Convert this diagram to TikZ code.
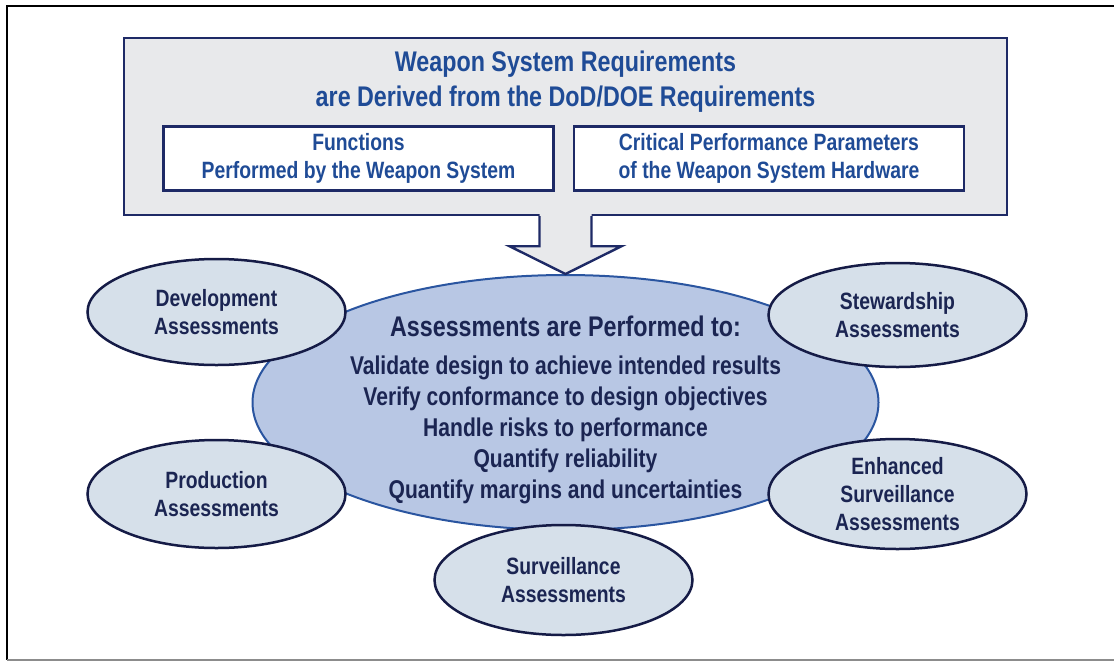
\documentclass[tikz,border=0pt]{standalone}
\usepackage{fontspec}
\setmainfont{Liberation Sans}[FakeStretch=0.82]
\usetikzlibrary{shapes.geometric,positioning}
\definecolor{reqgray}{HTML}{E8E9EB}
\definecolor{navyline}{HTML}{1E2A66}
\definecolor{titleblue}{HTML}{1F4B96}
\definecolor{ellblue}{HTML}{B8C7E4}
\definecolor{ellline}{HTML}{2A55A0}
\definecolor{satfill}{HTML}{D6E0EA}
\definecolor{satline}{HTML}{151B46}
\definecolor{darktext}{HTML}{1B2552}
\definecolor{framegray}{HTML}{8C8C8C}
\newcommand{\titlefont}{\fontsize{28.4}{35}\selectfont\bfseries}
\newcommand{\boxfont}{\fontsize{23.6}{28}\selectfont\bfseries}
\newcommand{\itemfont}{\fontsize{25.7}{31}\selectfont\bfseries}

\begin{document}
\begin{tikzpicture}[x=1pt,y=-1pt,
    reqbox/.style={draw=navyline,line width=2.4pt,fill=white,minimum width=390pt,
      minimum height=64pt,inner sep=0pt,align=center,text=titleblue,font=\boxfont},
    assess/.style={ellipse,draw=satline,line width=2.5pt,fill=satfill,minimum width=258pt,
      inner sep=0pt,align=center,text=darktext,font=\boxfont}]
    \useasboundingbox (0,0) rectangle (1114,662);
    % frame
    \draw[black,line width=2.4pt] (1114,6) -- (7,6) -- (7,660);
    \draw[framegray,line width=2pt] (7,660) -- (1114,660);
    % requirements
    \node[draw=navyline,line width=2.4pt,fill=reqgray,minimum width=883pt,minimum height=177pt,
      inner sep=0pt] (req) at (565.5,126.5) {};
    \node[align=center,text=titleblue,font=\titlefont] (reqtitle) at (565.5,82)
      {Weapon System Requirements\\are Derived from the DoD/DOE Requirements};
    \node[reqbox] (functions) at (358.5,158.5) {Functions\\Performed by the Weapon System};
    \node[reqbox] (params) at (769,158.5) {Critical Performance Parameters\\of the Weapon System Hardware};
    % assessments
    \node[ellipse,draw=ellline,line width=2pt,fill=ellblue,minimum width=626pt,
      minimum height=255pt,inner sep=0pt] (centre) at (565.5,402.5) {};
    \node[text=darktext,font=\titlefont] (centrehead) at (565.5,326) {Assessments are Performed to:};
    \node[align=center,text=darktext,font=\itemfont] (centreitems) at (565.5,430)
      {Validate design to achieve intended results\\Verify conformance to design objectives\\
       Handle risks to performance\\Quantify reliability\\Quantify margins and uncertainties};
    % block arrow
    \path (req.south) ++(0,30) coordinate (headbase);
    \fill[reqgray] ([xshift=-26pt,yshift=2pt]req.south) -- ([xshift=-26pt]headbase)
      -- ([xshift=-56pt]headbase) -- (centre.north) -- ([xshift=56pt]headbase)
      -- ([xshift=26pt]headbase) -- ([xshift=26pt,yshift=2pt]req.south) -- cycle;
    \draw[navyline,line width=2.4pt] ([xshift=-26pt]req.south) -- ([xshift=-26pt]headbase)
      -- ([xshift=-56pt]headbase) -- (centre.north) -- ([xshift=56pt]headbase)
      -- ([xshift=26pt]headbase) -- ([xshift=26pt]req.south);
    % satellites
    \node[assess,minimum height=106pt] (development) at (216.5,312) {Development\\Assessments};
    \node[assess,minimum height=104pt] (stewardship) at (897.5,315) {Stewardship\\Assessments};
    \node[assess,minimum height=108pt] (production) at (216.5,494) {Production\\Assessments};
    \node[assess,minimum height=110pt] (enhanced) at (897.5,494) {Enhanced\\Surveillance\\Assessments};
    \node[assess,minimum height=110pt] (surveillance) at (563.5,580) {Surveillance\\Assessments};
\end{tikzpicture}
\end{document}
